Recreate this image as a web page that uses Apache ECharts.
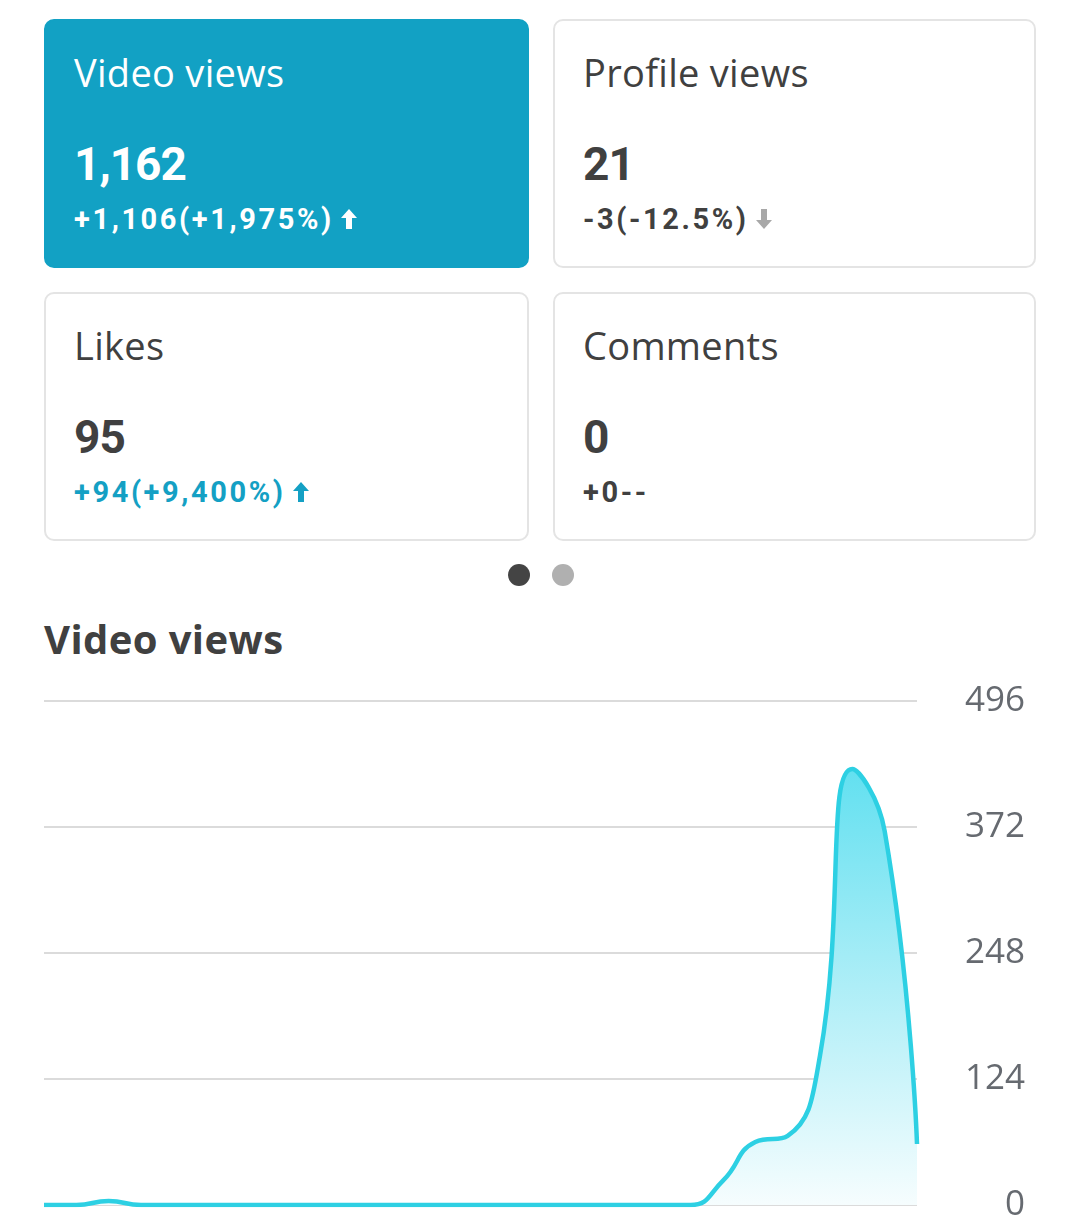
<!DOCTYPE html>
<html>
<head>
<meta charset="utf-8">
<script src="https://cdn.jsdelivr.net/npm/echarts@6/dist/echarts.min.js"></script>
<style>
  html, body { margin:0; padding:0; background:#fff; }
  body { width:1080px; height:1217px; position:relative; overflow:hidden; font-family: "Open Sans", Roboto, sans-serif; }
  .card { position:absolute; box-sizing:border-box; border-radius:10px; border:2px solid #e4e4e4; background:#fff; }
  .card.active { background:#12a1c4; border-color:#12a1c4; }
  .t { position:absolute; left:28px; white-space:nowrap; line-height:1; }
  .title { top:32px; font-size:38px; color:#404040; letter-spacing:0.3px; }
  .num { top:120px; font-size:46px; font-weight:700; color:#404040; font-family:Roboto, sans-serif; letter-spacing:-1px; }
  .chg { top:184px; font-size:29px; font-weight:700; color:#404040; letter-spacing:2.6px; font-family:Roboto, sans-serif; }
  .active .t { color:#fff; }
  .chg svg { vertical-align:middle; margin-left:6px; position:relative; top:-2px; }
  .dot { position:absolute; width:22px; height:22px; border-radius:50%; }
  #heading { position:absolute; left:44px; top:619px; font-size:40px; font-weight:700; color:#404040; line-height:1; letter-spacing:0.4px; }
  #chart { position:absolute; left:0; top:680px; width:1080px; height:537px; }
</style>
</head>
<body>
<div id="cards"></div>
<div class="dot" style="left:508px;top:564px;background:#444;"></div>
<div class="dot" style="left:552px;top:564px;background:#b0b0b0;"></div>
<div id="heading">Video views</div>
<div id="chart"></div>
<script>
// ---- data ----
const cardTitles  = ["Video views", "Profile views", "Likes", "Comments"];
const cardValues  = ["1,162", "21", "95", "0"];
const cardChanges = ["+1,106(+1,975%)", "-3(-12.5%)", "+94(+9,400%)", "+0--"];
const cardTrends  = ["up", "down", "up", "none"];

const days = ["1","2","3","4","5","6","7","8","9","10","11","12","13","14",
              "15","16","17","18","19","20","21","22","23","24","25","26","27","28"];
const videoViews = [0,0,4,0,0,0,0,0,0,0,0,0,0,0,0,0,0,0,0,0,0,24,62,68,147,429,368,60];
const yTicks = [0,124,248,372,496];

// ---- cards ----
const boxes = [
  {left:44, top:19, w:485, h:249},
  {left:553, top:19, w:483, h:249},
  {left:44, top:292, w:485, h:249},
  {left:553, top:292, w:483, h:249}
];
const upSvg = c => `<svg width="18" height="22" viewBox="0 0 18 22"><polygon points="9,1 17,10 12,10 12,21 6,21 6,10 1,10" fill="${c}"/></svg>`;
const downSvg = c => `<svg width="18" height="22" viewBox="0 0 18 22"><polygon points="9,21 17,12 12,12 12,1 6,1 6,12 1,12" fill="${c}"/></svg>`;
const wrap = document.getElementById('cards');
cardTitles.forEach((t, i) => {
  const b = boxes[i];
  const d = document.createElement('div');
  d.className = 'card' + (i === 0 ? ' active' : '');
  Object.assign(d.style, {left:b.left+'px', top:b.top+'px', width:b.w+'px', height:b.h+'px'});
  let chgColor = '#404040', arrow = '';
  if (i === 0) { chgColor = '#fff'; arrow = upSvg('#fff'); }
  else if (cardTrends[i] === 'up') { chgColor = '#14a0c4'; arrow = upSvg('#14a0c4'); }
  else if (cardTrends[i] === 'down') { arrow = downSvg('#a8a8a8'); }
  d.innerHTML = `<div class="t title">${t}</div><div class="t num">${cardValues[i]}</div>` +
    `<div class="t chg" style="color:${chgColor}">${cardChanges[i]}${arrow}</div>`;
  wrap.appendChild(d);
});

// ---- chart ----
const chart = echarts.init(document.getElementById('chart'), null, {renderer:'canvas'});
chart.setOption({
  animation:false,
  grid:{left:44, right:163, top:21, bottom:12, containLabel:false, outerBoundsMode:'none'},
  xAxis:{type:'category', data:days, boundaryGap:false,
    axisLine:{show:false}, axisTick:{show:false}, axisLabel:{show:false}, splitLine:{show:false}},
  yAxis:{type:'value', position:'right', min:yTicks[0], max:yTicks[yTicks.length-1], interval:yTicks[1]-yTicks[0],
    axisLine:{show:false}, axisTick:{show:false},
    axisLabel:{align:'right', margin:108, fontSize:35, color:'#666a70', fontFamily:'Open Sans'},
    splitLine:{lineStyle:{color:'#cfcfcf', width:1.5}}},
  series:[{
    type:'line', data:videoViews, smooth:0.5, symbol:'none',
    lineStyle:{color:'#2dd0e3', width:4.5},
    areaStyle:{opacity:1, color:new echarts.graphic.LinearGradient(0,0,0,1,[
      {offset:0, color:'#62e0f0'},
      {offset:0.5, color:'#aeeef7'},
      {offset:1, color:'#f6fdfe'}])}
  }]
});
</script>
</body>
</html>
